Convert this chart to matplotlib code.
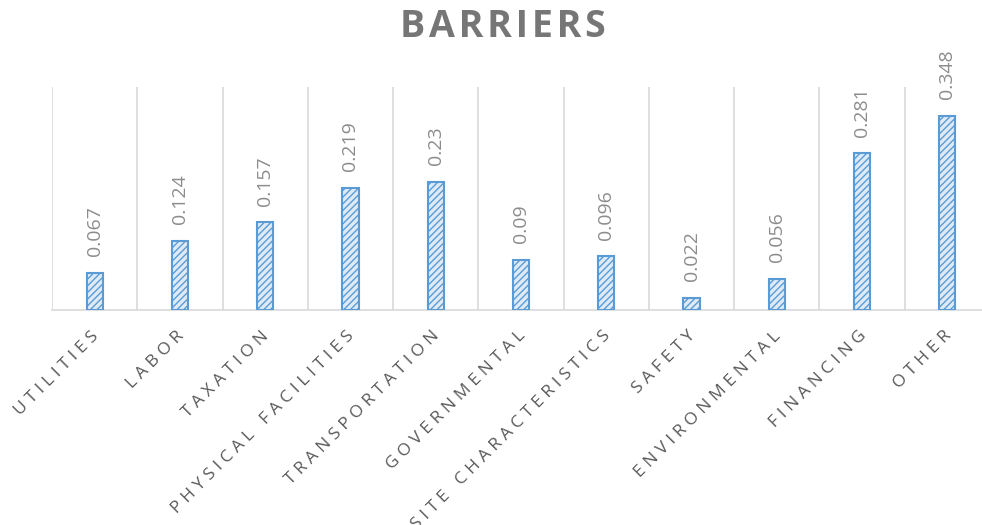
import numpy as np
import matplotlib.pyplot as plt
import matplotlib.transforms as mtransforms

categories = ["UTILITIES", "LABOR", "TAXATION", "PHYSICAL FACILITIES", "TRANSPORTATION",
              "GOVERNMENTAL", "SITE CHARACTERISTICS", "SAFETY", "ENVIRONMENTAL",
              "FINANCING", "OTHER"]
values = [0.067, 0.124, 0.157, 0.219, 0.23, 0.09, 0.096, 0.022, 0.056, 0.281, 0.348]
value_labels = ["0.067", "0.124", "0.157", "0.219", "0.23", "0.09", "0.096",
                "0.022", "0.056", "0.281", "0.348"]

plt.rcParams['font.family'] = ['Open Sans', 'DejaVu Sans']
plt.rcParams['hatch.color'] = '#5B9BD5'
plt.rcParams['hatch.linewidth'] = 1.0

fig = plt.figure(figsize=(9.82, 5.25), dpi=100)
ax = fig.add_axes([52 / 982, (525 - 310) / 525, 938 / 982, 223 / 525])

x = np.arange(len(categories))
ax.bar(x, values, width=0.19, color='#DEEBF7', edgecolor='#5B9BD5',
       linewidth=1.5, hatch='/////', zorder=3)

for xi, v, lab in zip(x, values, value_labels):
    ax.annotate(lab, (xi, v), xytext=(0, 12), textcoords='offset points',
                rotation=90, ha='center', va='bottom', fontsize=14, color='#8C8C8C')

ax.set_xlim(-0.5, len(categories) - 0.5)
ax.set_ylim(0, 0.4)

# vertical gridlines between categories
ax.set_xticks(np.arange(-0.5, len(categories), 1.0), minor=True)
ax.grid(which='minor', axis='x', color='#D9D9D9', linewidth=1.2, zorder=0)
ax.tick_params(which='both', length=0)
ax.set_yticks([])


def spread(s):
    # widen letter spacing; words get a bit more room between them
    gap = '\u2009\u200a'
    return (gap + '\u2009\u2009' + gap).join(gap.join(w) for w in s.split(' '))


ax.set_xticks(x)
ax.set_xticklabels([spread(c) for c in categories], rotation=45, ha='right',
                   rotation_mode='anchor', fontsize=12.5, color='#595959')
ax.tick_params(axis='x', pad=13)
shift = mtransforms.ScaledTranslation(-4 / 100, 0, fig.dpi_scale_trans)
for t in ax.get_xticklabels():
    t.set_transform(t.get_transform() + shift)

for side in ['top', 'right', 'left']:
    ax.spines[side].set_visible(False)
ax.spines['bottom'].set_color('#D9D9D9')
ax.spines['bottom'].set_linewidth(1.2)

fig.text(503 / 982, 1 - 27 / 525, '\u200a'.join("BARRIERS"), ha='center', va='center',
         fontsize=27, fontweight='bold', color='#767676')

fig.savefig('out.png', dpi=100)
